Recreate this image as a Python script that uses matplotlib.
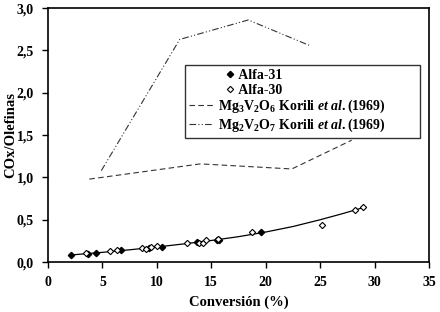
import matplotlib
matplotlib.use("Agg")
import matplotlib.pyplot as plt
from matplotlib.ticker import FuncFormatter
from matplotlib.legend_handler import HandlerLine2D

plt.rcParams['font.family'] = ['Liberation Serif', 'DejaVu Serif']
plt.rcParams['font.weight'] = 'bold'
plt.rcParams['mathtext.fontset'] = 'custom'
plt.rcParams['mathtext.rm'] = 'Liberation Serif:bold'
plt.rcParams['mathtext.bf'] = 'Liberation Serif:bold'
plt.rcParams['mathtext.it'] = 'Liberation Serif:italic:bold'

# Alfa-31 (filled diamonds)
a31_x = [2.16, 3.64, 4.38, 6.73, 9.29, 10.46, 13.7, 15.5, 15.7, 19.6]
a31_y = [0.086, 0.098, 0.11, 0.137, 0.169, 0.184, 0.235, 0.255, 0.255, 0.35]

# Alfa-30 (open diamonds)
a30_x = [3.49, 5.74, 6.3, 8.67, 9.04, 9.44, 9.97, 12.78, 13.86, 14.2, 14.5,
         15.6, 18.7, 25.2, 28.2, 28.9]
a30_y = [0.11, 0.125, 0.145, 0.165, 0.153, 0.173, 0.19, 0.231, 0.231, 0.22,
         0.255, 0.27, 0.357, 0.443, 0.616, 0.647]

# trend line
fit_x = [2.2, 5, 7.5, 10, 12.5, 15, 17.5, 20, 22.5, 25, 27, 29]
fit_y = [0.085, 0.115, 0.145, 0.178, 0.215, 0.255, 0.30, 0.355, 0.42, 0.50, 0.57, 0.645]

# Mg3V2O6 Korili et al. (1969)
mg3_x = [3.8, 14.0, 22.4, 27.9]
mg3_y = [0.98, 1.16, 1.10, 1.44]

# Mg2V2O7 Korili et al. (1969)
mg2_x = [4.9, 12.1, 18.4, 24.0]
mg2_y = [1.08, 2.63, 2.86, 2.56]

fig = plt.figure(figsize=(4.4, 3.12), dpi=100)
ax = fig.add_axes([0.109, 0.160, 0.866, 0.814])

ax.plot(fit_x, fit_y, color='black', lw=0.9, zorder=2)
p31, = ax.plot(a31_x, a31_y, 'D', color='black', markersize=3.2,
               label='      Alfa-31', zorder=3)
p30, = ax.plot(a30_x, a30_y, 'D', markerfacecolor='white', markeredgecolor='black',
               markeredgewidth=0.8, markersize=3.2, label='      Alfa-30', zorder=3)
ax.plot(mg3_x, mg3_y, color='#333333', lw=0.8, dashes=(5, 3),
        label=r'Mg$_3$V$_2$O$_6$ Korili $et\ al.$(1969)')
ax.plot(mg2_x, mg2_y, color='#333333', lw=0.8, dashes=(6, 2, 1, 2, 1, 2),
        label=r'Mg$_2$V$_2$O$_7$ Korili $et\ al.$(1969)')

ax.set_xlim(0, 35)
ax.set_ylim(0, 3.0)
ax.set_xticks(range(0, 36, 5))
ax.set_yticks([0, 0.5, 1.0, 1.5, 2.0, 2.5, 3.0])
ax.yaxis.set_major_formatter(FuncFormatter(lambda v, p: f"{v:.1f}".replace('.', ',')))
ax.tick_params(direction='out', labelsize=10, length=4, width=1)
ax.tick_params(axis='x', pad=6)
ax.tick_params(axis='y', pad=6)
for s in ax.spines.values():
    s.set_linewidth(1.2)

ax.set_xlabel('Conversión (%)', fontsize=10.5, fontweight='bold', labelpad=5)
ax.set_ylabel('COx/Olefinas', fontsize=10.5, fontweight='bold')
ax.yaxis.set_label_coords(-0.08, 0.5)

shift = HandlerLine2D(xpad=4.2)
leg = ax.legend(loc='upper left', bbox_to_anchor=(0.36, 0.496, 0.616, 0.28),
                mode='expand', fontsize=10,
                frameon=True, fancybox=False, edgecolor='black',
                handlelength=1.7, handletextpad=0.4, borderpad=0.3,
                labelspacing=0.1, borderaxespad=0,
                handler_map={p31: shift, p30: shift})
leg.get_frame().set_linewidth(1.0)

fig.savefig("out.png", dpi=100)
